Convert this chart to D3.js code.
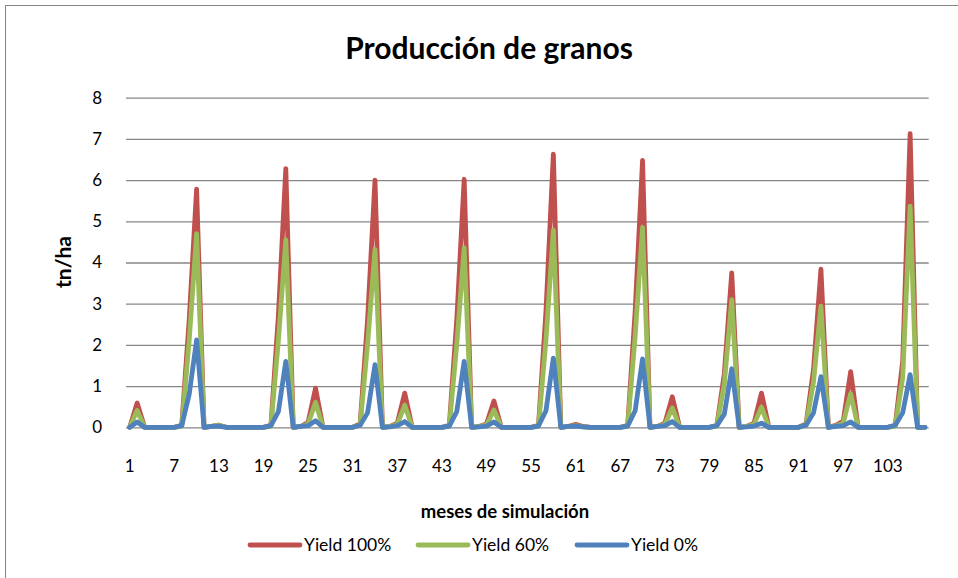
<!DOCTYPE html>
<html>
<head>
<meta charset="utf-8">
<script src="https://cdn.jsdelivr.net/npm/d3@7"></script>
<style>
  html, body { margin: 0; padding: 0; background: #fff; }
  svg { display: block; font-family: Lato, "Noto Sans", sans-serif; }
</style>
</head>
<body>
<svg id="chart" width="958" height="578"></svg>
<script>
// Months of simulation (1..108)
const months = d3.range(1, 109);

// Grain yield, tn/ha, one value per month
const yield100 = [
  0, 0.59, 0, 0, 0, 0, 0, 0.05, 2.6, 5.78, 0, 0.02,
  0.05, 0, 0, 0, 0, 0, 0, 0.05, 2.7, 6.28, 0, 0.02,
  0.12, 0.95, 0, 0, 0, 0, 0, 0.08, 2.6, 6.0, 0, 0.02,
  0.1, 0.83, 0, 0, 0, 0, 0, 0.05, 2.6, 6.02, 0, 0.02,
  0.08, 0.64, 0, 0, 0, 0, 0, 0.05, 2.8, 6.63, 0, 0.02,
  0.07, 0.02, 0, 0, 0, 0, 0, 0.05, 2.8, 6.48, 0, 0.02,
  0.1, 0.74, 0, 0, 0, 0, 0, 0.05, 1.3, 3.75, 0, 0.02,
  0.1, 0.83, 0, 0, 0, 0, 0, 0.08, 1.4, 3.84, 0, 0.05,
  0.15, 1.35, 0, 0, 0, 0, 0, 0.05, 1.6, 7.13, 0, 0
];
const yield60 = [
  0, 0.41, 0, 0, 0, 0, 0, 0.03, 2.1, 4.7, 0, 0.02,
  0.05, 0, 0, 0, 0, 0, 0, 0.03, 2.1, 4.55, 0, 0.02,
  0.08, 0.61, 0, 0, 0, 0, 0, 0.05, 2.0, 4.32, 0, 0.02,
  0.07, 0.54, 0, 0, 0, 0, 0, 0.03, 2.0, 4.36, 0, 0.02,
  0.05, 0.42, 0, 0, 0, 0, 0, 0.03, 2.1, 4.79, 0, 0.02,
  0.04, 0.01, 0, 0, 0, 0, 0, 0.03, 2.2, 4.85, 0, 0.02,
  0.07, 0.47, 0, 0, 0, 0, 0, 0.03, 1.05, 3.1, 0, 0.02,
  0.07, 0.49, 0, 0, 0, 0, 0, 0.05, 1.1, 2.94, 0, 0.03,
  0.1, 0.82, 0, 0, 0, 0, 0, 0.03, 1.2, 5.37, 0, 0
];
const yield0 = [
  0, 0.13, 0, 0, 0, 0, 0, 0.04, 0.8, 2.12, 0, 0.02,
  0.03, 0, 0, 0, 0, 0, 0, 0.04, 0.38, 1.6, 0, 0.02,
  0.04, 0.16, 0, 0, 0, 0, 0, 0.05, 0.35, 1.52, 0, 0.01,
  0.04, 0.14, 0, 0, 0, 0, 0, 0.03, 0.38, 1.6, 0, 0.01,
  0.03, 0.13, 0, 0, 0, 0, 0, 0.03, 0.4, 1.68, 0, 0.02,
  0.03, 0.01, 0, 0, 0, 0, 0, 0.03, 0.4, 1.66, 0, 0.02,
  0.04, 0.14, 0, 0, 0, 0, 0, 0.04, 0.32, 1.42, 0, 0.01,
  0.03, 0.1, 0, 0, 0, 0, 0, 0.05, 0.35, 1.23, 0, 0.02,
  0.04, 0.13, 0, 0, 0, 0, 0, 0.05, 0.35, 1.28, 0, 0
];

const seriesNames = ["Yield 100%", "Yield 60%", "Yield 0%"];
const seriesColors = ["#C0504D", "#9BBB59", "#4F81BD"];
const xTickLabels = [1, 7, 13, 19, 25, 31, 37, 43, 49, 55, 61, 67, 73, 79, 85, 91, 97, 103];
const yTicks = [0, 1, 2, 3, 4, 5, 6, 7, 8];

const series = [yield100, yield60, yield0].map((vals, i) => ({
  name: seriesNames[i], color: seriesColors[i], values: vals
}));

const svg = d3.select("#chart");
const plot = { left: 126, right: 928.7, top: 97.7, bottom: 427.3 };

// Chart frame
svg.append("rect")
  .attr("x", 5.5).attr("y", 5.5)
  .attr("width", 1000).attr("height", 1000)
  .attr("fill", "#fff").attr("stroke", "#868686").attr("stroke-width", 1);

const x = d3.scaleBand().domain(months).range([plot.left, plot.right]);
const xc = m => x(m) + x.bandwidth() / 2;
const y = d3.scaleLinear().domain([0, 8]).range([plot.bottom, plot.top]);

// Horizontal gridlines + y labels
const yAxis = d3.axisLeft(y).tickValues(yTicks).tickSize(-(plot.right - plot.left)).tickPadding(24);
const gy = svg.append("g").attr("transform", `translate(${plot.left},0)`).call(yAxis);
gy.select(".domain").remove();
gy.selectAll(".tick line").attr("stroke", "#868686").attr("stroke-width", 1.3);
gy.selectAll(".tick text").attr("font-size", 17).attr("fill", "#000")
  .attr("font-family", "Lato, sans-serif");

// Category axis labels
const xAxis = d3.axisBottom(x).tickValues(xTickLabels).tickSize(0).tickPadding(33);
const gx = svg.append("g").attr("transform", `translate(0,${plot.bottom})`).call(xAxis);
gx.select(".domain").remove();
gx.selectAll(".tick text").attr("font-size", 17).attr("fill", "#000")
  .attr("font-family", "Lato, sans-serif");

// Lines
const line = d3.line().x((d, i) => xc(months[i])).y(d => y(d));
svg.append("g").selectAll("path").data(series).join("path")
  .attr("d", s => line(s.values))
  .attr("fill", "none")
  .attr("stroke", s => s.color)
  .attr("stroke-width", 4.8)
  .attr("stroke-linejoin", "round")
  .attr("stroke-linecap", "round");

// Title
svg.append("text").attr("x", 489).attr("y", 59).attr("text-anchor", "middle")
  .attr("font-size", 30).attr("font-weight", "bold").text("Producción de granos");

// Axis titles
svg.append("text").attr("transform", "translate(71,262) rotate(-90)")
  .attr("text-anchor", "middle").attr("font-size", 21).attr("font-weight", "bold").text("tn/ha");
svg.append("text").attr("x", 505).attr("y", 518).attr("text-anchor", "middle")
  .attr("font-size", 18.5).attr("font-weight", "bold").text("meses de simulación");

// Legend
const legendX = [250, 418, 577];
const lg = svg.append("g").selectAll("g").data(series).join("g")
  .attr("transform", (d, i) => `translate(${legendX[i]},545)`);
lg.append("line").attr("x1", 0).attr("x2", 50).attr("y1", 0).attr("y2", 0)
  .attr("stroke", d => d.color).attr("stroke-width", 4.8).attr("stroke-linecap", "round");
lg.append("text").attr("x", 54).attr("y", 6).attr("font-size", 17.5).text(d => d.name);
</script>
</body>
</html>
